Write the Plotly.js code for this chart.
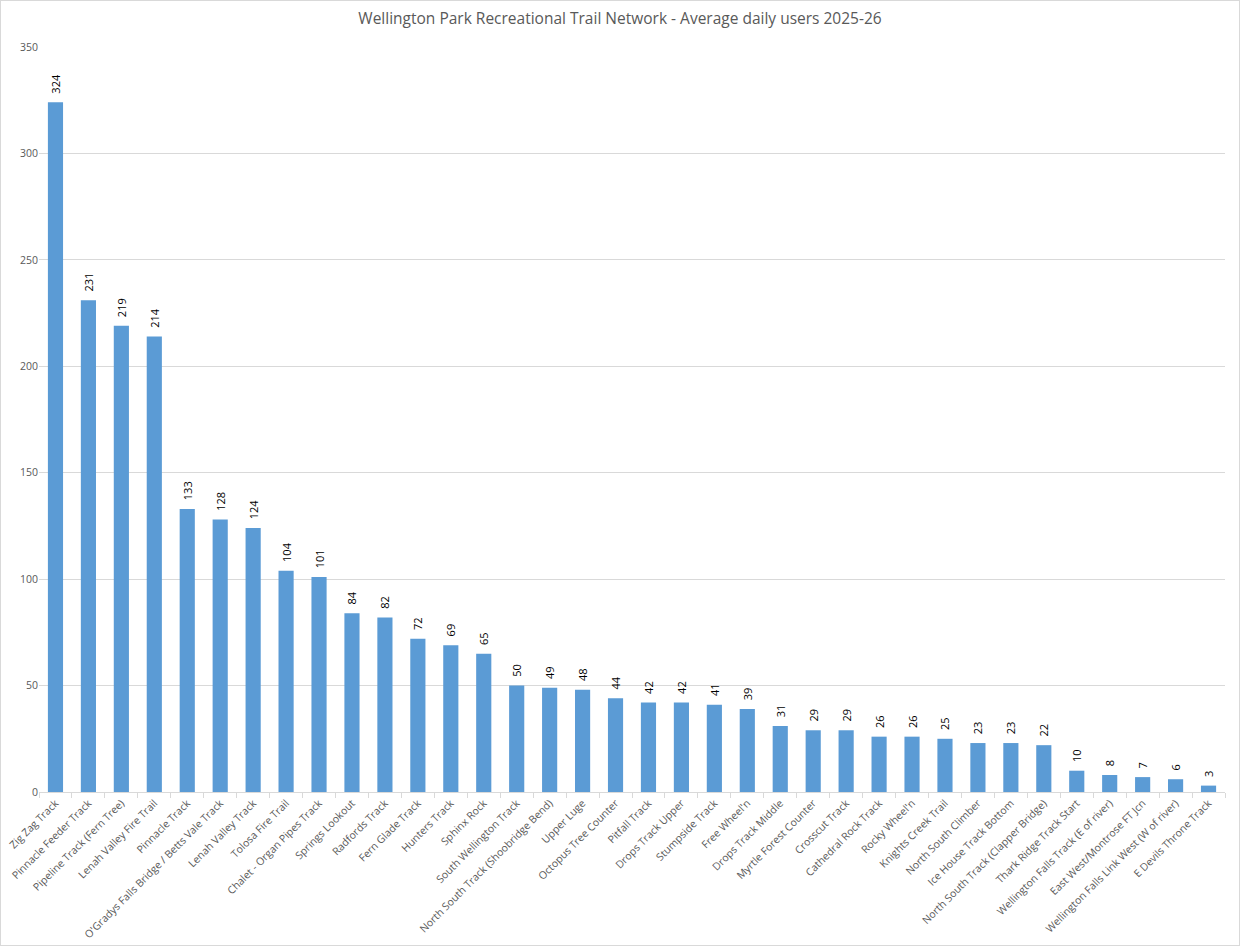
<!DOCTYPE html>
<html>
<head>
<meta charset="utf-8">
<script src="https://cdn.plot.ly/plotly-3.0.1.min.js"></script>
<style>
  body { margin: 0; background: #fff; }
  #chart { width: 1238px; height: 944px; border: 1px solid #d9d9d9; }
</style>
</head>
<body>
<div id="chart"></div>
<script>
var trails = [
  'Zig Zag Track', 'Pinnacle Feeder Track', 'Pipeline Track (Fern Tree)', 'Lenah Valley Fire Trail',
  'Pinnacle Track', 'O\'Gradys Falls Bridge / Betts Vale Track', 'Lenah Valley Track', 'Tolosa Fire Trail',
  'Chalet - Organ Pipes Track', 'Springs Lookout', 'Radfords Track', 'Fern Glade Track',
  'Hunters Track', 'Sphinx Rock', 'South Wellington Track', 'North South Track (Shoobridge Bend)',
  'Upper Luge', 'Octopus Tree Counter', 'Pitfall Track', 'Drops Track Upper',
  'Stumpside Track', 'Free Wheel\'n', 'Drops Track Middle', 'Myrtle Forest Counter',
  'Crosscut Track', 'Cathedral Rock Track', 'Rocky Wheel\'n', 'Knights Creek Trail',
  'North South Climber', 'Ice House Track Bottom', 'North South Track (Clapper Bridge)', 'Thark Ridge Track Start',
  'Wellington Falls Track (E of river)', 'East West/Montrose FT Jcn', 'Wellington Falls Link West (W of river)', 'E Devils Throne Track'
];
var dailyUsers = [
  324, 231, 219, 214, 133, 128, 124, 104, 101, 84, 82, 72,
  69, 65, 50, 49, 48, 44, 42, 42, 41, 39, 31, 29,
  29, 26, 26, 25, 23, 23, 22, 10, 8, 7, 6, 3
];

// leading no-break spaces lift the rotated label off the bar top
var labels = dailyUsers.map(function (v) { return '\u00a0\u00a0' + v; });

var trace = {
  type: 'bar',
  x: trails,
  y: dailyUsers,
  marker: { color: '#5b9bd5' },
  text: labels,
  textposition: 'outside',
  textangle: -90,
  constraintext: 'none',
  cliponaxis: false,
  textfont: { family: 'Open Sans, sans-serif', size: 11, color: '#000' },
  hoverinfo: 'none'
};

var layout = {
  width: 1238, height: 944,
  margin: { l: 38, r: 14, t: 46, b: 153 },
  paper_bgcolor: '#fff', plot_bgcolor: '#fff',
  title: {
    text: 'Wellington Park Recreational Trail Network - Average daily users 2025-26',
    font: { family: 'Open Sans, sans-serif', size: 15.5, color: '#595959' },
    x: 0.5, xanchor: 'center', y: 0.981, yanchor: 'middle'
  },
  bargap: 0.54,
  showlegend: false,
  xaxis: {
    type: 'category',
    tickangle: -45,
    tickfont: { family: 'Open Sans, sans-serif', size: 10.5, color: '#595959' },
    showline: true, linecolor: '#d9d9d9', linewidth: 1,
    ticks: 'outside', tickson: 'boundaries', ticklen: 5, tickcolor: '#d9d9d9',
    showgrid: false, fixedrange: true
  },
  yaxis: {
    range: [0, 350],
    dtick: 50,
    tickfont: { family: 'Open Sans, sans-serif', size: 10.5, color: '#595959' },
    gridcolor: '#d9d9d9', gridwidth: 1,
    zeroline: false, showline: false, ticks: '',
    fixedrange: true
  }
};

Plotly.newPlot('chart', [trace], layout, { staticPlot: true });
</script>
</body>
</html>
